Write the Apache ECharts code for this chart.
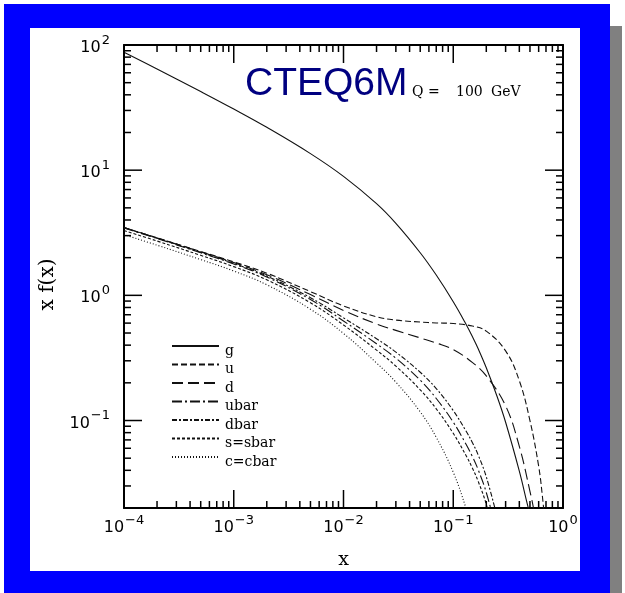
<!DOCTYPE html>
<html>
<head>
<meta charset="utf-8">
<script src="https://cdn.jsdelivr.net/npm/echarts@6/dist/echarts.min.js"></script>
<style>
  html, body { margin: 0; padding: 0; background: #ffffff; }
  #shadow { position: absolute; left: 610px; top: 26px; width: 12px; height: 567px; background: #808080; }
  #frame  { position: absolute; left: 4px; top: 4px; width: 606px; height: 589px; background: #0000ff; }
  #paper  { position: absolute; left: 30px; top: 28px; width: 550px; height: 543px; background: #ffffff; }
  #chart  { position: absolute; left: 0; top: 0; width: 625px; height: 593px; }
</style>
</head>
<body>
<div id="shadow"></div>
<div id="frame"></div>
<div id="paper"></div>
<div id="chart"></div>
<script>
// Parton distributions x f(x) of CTEQ6M at Q = 100 GeV
const gX    = [1e-4, 2e-4, 5e-4, 1e-3, 2e-3, 5e-3, 0.01, 0.02, 0.03, 0.05, 0.07, 0.1, 0.13, 0.15, 0.17, 0.2, 0.25, 0.3, 0.4, 0.47, 0.5];
const gY    = [87.7, 64.4, 42.5, 30.8, 22.0, 13.56, 8.92, 5.40, 3.76, 2.19, 1.452, 0.889, 0.593, 0.465, 0.369, 0.264, 0.157, 0.0969, 0.0394, 0.0220, 0.0177];

const uX    = [1e-4, 2e-4, 5e-4, 1e-3, 2e-3, 5e-3, 0.01, 0.02, 0.03, 0.05, 0.07, 0.1, 0.15, 0.2, 0.3, 0.4, 0.5, 0.6, 0.65, 0.7];
const uY    = [3.48, 2.88, 2.24, 1.851, 1.504, 1.071, 0.823, 0.674, 0.634, 0.612, 0.602, 0.596, 0.568, 0.518, 0.360, 0.208, 0.0997, 0.0432, 0.0245, 0.0126];

const dX    = [1e-4, 2e-4, 5e-4, 1e-3, 2e-3, 5e-3, 0.01, 0.02, 0.03, 0.05, 0.07, 0.1, 0.15, 0.2, 0.3, 0.4, 0.5, 0.55, 0.6];
const dY    = [3.48, 2.876, 2.225, 1.827, 1.463, 1.014, 0.758, 0.590, 0.525, 0.457, 0.416, 0.369, 0.290, 0.227, 0.131, 0.0621, 0.0272, 0.0181, 0.0117];

const ubarX = [1e-4, 2e-4, 5e-4, 1e-3, 2e-3, 5e-3, 0.01, 0.02, 0.03, 0.05, 0.07, 0.1, 0.13, 0.15, 0.17, 0.2, 0.25];
const ubarY = [3.45, 2.844, 2.185, 1.780, 1.401, 0.926, 0.624, 0.410, 0.315, 0.210, 0.150, 0.097, 0.0652, 0.0512, 0.0398, 0.0266, 0.0127];

const dbarX = [1e-4, 2e-4, 5e-4, 1e-3, 2e-3, 5e-3, 0.01, 0.02, 0.03, 0.05, 0.07, 0.1, 0.13, 0.15, 0.17, 0.2, 0.25];
const dbarY = [3.474, 2.863, 2.206, 1.800, 1.427, 0.958, 0.661, 0.450, 0.352, 0.243, 0.180, 0.120, 0.0831, 0.0662, 0.0522, 0.0355, 0.0172];

const sX    = [1e-4, 2e-4, 5e-4, 1e-3, 2e-3, 5e-3, 0.01, 0.02, 0.03, 0.05, 0.07, 0.1, 0.13, 0.15, 0.17, 0.2, 0.25];
const sY    = [3.294, 2.716, 2.087, 1.696, 1.331, 0.872, 0.580, 0.365, 0.272, 0.176, 0.124, 0.0790, 0.0530, 0.0414, 0.0321, 0.0214, 0.0101];

const cX    = [1e-4, 2e-4, 5e-4, 1e-3, 2e-3, 5e-3, 0.01, 0.02, 0.03, 0.05, 0.07, 0.1, 0.13, 0.15];
const cY    = [3.053, 2.517, 1.930, 1.564, 1.214, 0.774, 0.496, 0.288, 0.2026, 0.1172, 0.0734, 0.0386, 0.0202, 0.0129];

const seriesNames = ['g', 'u', 'd', 'ubar', 'dbar', 's=sbar', 'c=cbar'];

// axis ranges and tick labels (powers of ten)
const X_MIN = 1e-4, X_MAX = 1, Y_MIN = 0.02, Y_MAX = 100;
const xTickExponents = [-4, -3, -2, -1, 0];
const yTickExponents = [-1, 0, 1, 2];
const minorMultipliers = [2, 3, 4, 5, 6, 7, 8, 9];

const pairs = (xs, ys) => xs.map((x, i) => [x, ys[i]]);

const curveDefs = [
  { name: 'g',      data: pairs(gX, gY),       dash: 'solid' },
  { name: 'u',      data: pairs(uX, uY),       dash: [6, 3] },
  { name: 'd',      data: pairs(dX, dY),       dash: [11, 5] },
  { name: 'ubar',   data: pairs(ubarX, ubarY), dash: [10, 3, 2, 3] },
  { name: 'dbar',   data: pairs(dbarX, dbarY), dash: [5, 2, 2, 2] },
  { name: 's=sbar', data: pairs(sX, sY),       dash: [3, 2] },
  { name: 'c=cbar', data: pairs(cX, cY),       dash: [1, 2] }
];

function powerLabel(v, exps) {
  const e = Math.round(Math.log10(v));
  if (exps.indexOf(e) < 0 || Math.abs(v / Math.pow(10, e) - 1) > 1e-6) return '';
  return '{m|10}{e|' + (e < 0 ? '\u2212' + (-e) : String(e)) + '}';
}

const labelRich = {
  m: { fontFamily: 'DejaVu Sans', fontSize: 16, lineHeight: 22, verticalAlign: 'bottom', color: '#000' },
  e: { fontFamily: 'DejaVu Sans', fontSize: 13, lineHeight: 14, verticalAlign: 'top', color: '#000', padding: [0, 0, 0, 1] }
};

function minorValues(lo, hi) {
  const out = [];
  for (let d = Math.floor(Math.log10(lo)); d < Math.ceil(Math.log10(hi)); d++) {
    minorMultipliers.forEach(m => {
      const v = m * Math.pow(10, d);
      if (v > lo * 1.0001 && v < hi * 0.9999) out.push(v);
    });
  }
  return out;
}

const MAJOR_LEN = 18, MINOR_LEN = 7;
const axisColor = '#000';

// tick marks on all four sides: [x, y, side (0 = x axes, 1 = y axes), length]
const tickData = []
  .concat(xTickExponents.map(e => [Math.pow(10, e), 1, 0, MAJOR_LEN]))
  .concat(minorValues(X_MIN, X_MAX).map(v => [v, 1, 0, MINOR_LEN]))
  .concat(yTickExponents.map(e => [0.01, Math.pow(10, e), 1, MAJOR_LEN]))
  .concat(minorValues(Y_MIN, Y_MAX).map(v => [0.01, v, 1, MINOR_LEN]));

function logAxis(extra) {
  return Object.assign({
    type: 'log',
    logBase: 10,
    axisLine: { show: true, onZero: false, lineStyle: { color: axisColor, width: 2 } },
    axisTick: { show: false },
    minorTick: { show: false },
    splitLine: { show: false },
    minorSplitLine: { show: false }
  }, extra);
}

const chart = echarts.init(document.getElementById('chart'), null, { renderer: 'canvas' });

chart.setOption({
  animation: false,
  backgroundColor: 'transparent',
  grid: { left: 124, top: 45, width: 439, height: 463, containLabel: false },
  xAxis: [
    logAxis({
      min: X_MIN, max: X_MAX, position: 'bottom',
      axisLabel: { show: true, margin: 6, formatter: v => powerLabel(v, xTickExponents), rich: labelRich },
      name: 'x', nameLocation: 'middle', nameGap: 43,
      nameTextStyle: { fontFamily: 'DejaVu Serif', fontSize: 19, color: '#000' }
    }),
    logAxis({ min: X_MIN, max: X_MAX, position: 'top', axisLabel: { show: false } })
  ],
  yAxis: [
    logAxis({
      min: Y_MIN, max: Y_MAX, position: 'left',
      axisLabel: { show: true, margin: 14, formatter: v => powerLabel(v, yTickExponents), rich: labelRich },
      name: 'x f(x)', nameLocation: 'middle', nameGap: 66, nameRotate: 90,
      nameTextStyle: { fontFamily: 'DejaVu Serif', fontSize: 20, color: '#000', padding: [0, 16, 0, 0] }
    }),
    logAxis({ min: Y_MIN, max: Y_MAX, position: 'right', axisLabel: { show: false } })
  ],
  legend: {
    orient: 'vertical',
    left: 166, top: 329,
    itemWidth: 47, itemHeight: 24, itemGap: -5.5,
    selectedMode: false,
    data: seriesNames,
    itemStyle: { opacity: 0 },
    formatter: name => '{t|' + name + '}',
    textStyle: {
      color: '#000',
      rich: { t: { fontFamily: 'DejaVu Serif', fontSize: 14, lineHeight: 14, color: '#000', padding: [10, 0, 0, 1] } }
    }
  },
  graphic: [
    { type: 'text', left: 245, top: 65,
      style: { text: 'CTEQ6M', font: '39px "Liberation Sans"', fill: '#000080' } },
    { type: 'text', left: 412, top: 85,
      style: {
        text: '{a|Q}{b|=}{c|100}{d|GeV}',
        rich: {
          a: { fontFamily: 'DejaVu Serif', fontSize: 14, width: 16, fill: '#000' },
          b: { fontFamily: 'DejaVu Serif', fontSize: 14, width: 28, fill: '#000' },
          c: { fontFamily: 'DejaVu Serif', fontSize: 14, width: 35, fill: '#000' },
          d: { fontFamily: 'DejaVu Serif', fontSize: 14, fill: '#000' }
        }
      } }
  ],
  series: curveDefs.map(c => ({
    name: c.name,
    type: 'line',
    xAxisIndex: 0, yAxisIndex: 0,
    data: c.data,
    smooth: 0.4,
    showSymbol: false,
    symbol: 'none',
    clip: true,
    lineStyle: { color: '#111', width: 1.1, type: c.dash },
    itemStyle: { color: '#111' },
    z: 3
  })).concat([{
    type: 'custom',
    name: 'ticks',
    xAxisIndex: 0, yAxisIndex: 0,
    data: tickData,
    clip: false,
    silent: true,
    z: 4,
    renderItem: function (params, api) {
      const side = api.value(2), len = api.value(3);
      const st = { stroke: axisColor, lineWidth: 1.5 };
      if (side === 0) {
        const v = api.value(0);
        const a = api.coord([v, Y_MIN]), b = api.coord([v, Y_MAX]);
        return { type: 'group', children: [
          { type: 'line', shape: { x1: a[0], y1: a[1], x2: a[0], y2: a[1] - len }, style: st },
          { type: 'line', shape: { x1: b[0], y1: b[1], x2: b[0], y2: b[1] + len }, style: st }
        ] };
      }
      const v = api.value(1);
      const a = api.coord([X_MIN, v]), b = api.coord([X_MAX, v]);
      return { type: 'group', children: [
        { type: 'line', shape: { x1: a[0], y1: a[1], x2: a[0] + len, y2: a[1] }, style: st },
        { type: 'line', shape: { x1: b[0], y1: b[1], x2: b[0] - len, y2: b[1] }, style: st }
      ] };
    }
  }])
});
</script>
</body>
</html>
